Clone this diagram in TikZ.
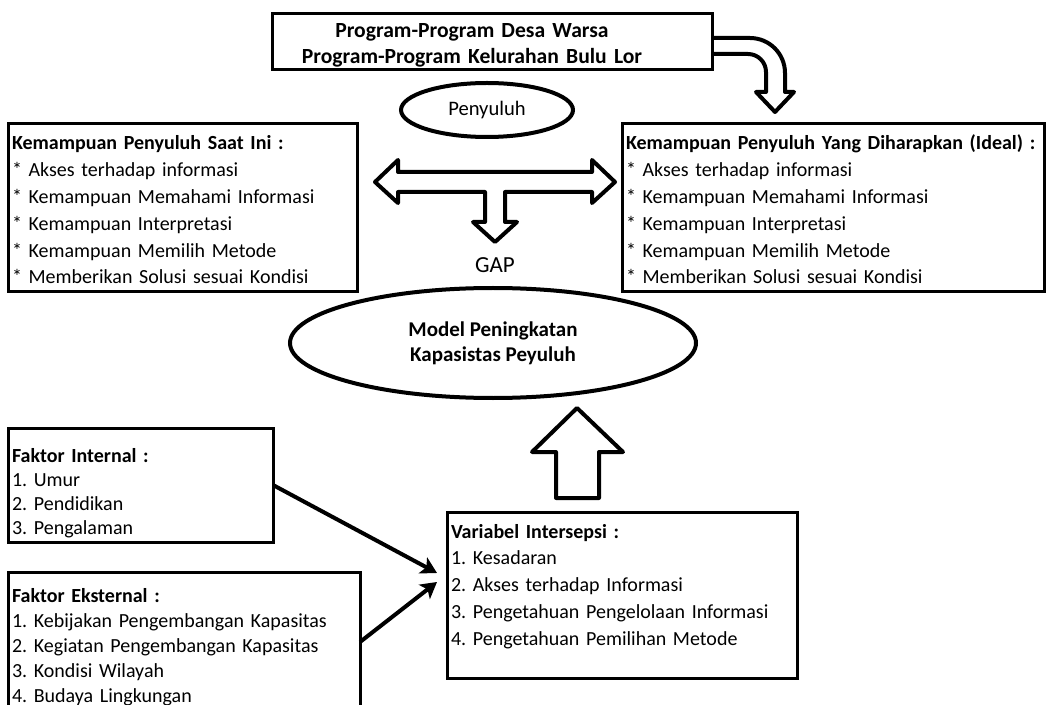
\documentclass[tikz,border=0pt]{standalone}
\usepackage{fontspec}
\setmainfont{Carlito}
\usetikzlibrary{shapes.geometric,arrows.meta}
\frenchspacing

\tikzset{
    box/.style        = {draw, line width=1.5pt, outer sep=0pt, inner xsep=2pt, inner ysep=0pt,
                         anchor=north west, align=left, font=\fontsize{10}{13.4}\selectfont},
    oval/.style       = {draw, ellipse, line width=2pt, inner sep=0pt},
    blockarrow/.style = {draw, line width=2pt, line join=round},
    arrow/.style      = {line width=2pt,-{Stealth[length=8pt,width=9pt,inset=2pt]}},
}

\begin{document}
\begin{tikzpicture}[x=0.5pt,y=-0.5pt]
                \useasboundingbox (0,0) rectangle (1048,705);

                % programs on top
                \node[box, align=center, text width=216pt, text height=12pt, text depth=16pt,
                      font=\bfseries\fontsize{10.8}{13}\selectfont] (prog) at (272,14)
                      {\hspace*{-20pt}Program-Program Desa Warsa\\
                       \hspace*{-20pt}Program-Program Kelurahan Bulu Lor};
                \node[oval, minimum width=86pt, minimum height=27pt,
                      font=\fontsize{10.3}{12}\selectfont] (peny) at (487,110) {Penyuluh};

                % now and ideal
                \node[box, text width=170.5pt, text height=13pt, text depth=71pt] (now) at (8,124)
                      {\textbf{Kemampuan Penyuluh Saat Ini :}\\
                       {*} Akses terhadap informasi\\
                       {*} Kemampuan Memahami Informasi\\
                       {*} Kemampuan Interpretasi\\
                       {*} Kemampuan Memilih Metode\\
                       {*} Memberikan Solusi sesuai Kondisi};
                \node[box, text width=207pt, text height=13pt, text depth=71pt] (ideal) at (622,124)
                      {\textbf{Kemampuan Penyuluh Yang Diharapkan (Ideal) :}\\
                       {*} Akses terhadap informasi\\
                       {*} Kemampuan Memahami Informasi\\
                       {*} Kemampuan Interpretasi\\
                       {*} Kemampuan Memilih Metode\\
                       {*} Memberikan Solusi sesuai Kondisi};

                \node[font=\fontsize{11.5}{14}\selectfont] (gap) at (495,265) {GAP};
                \node[oval, minimum width=203pt, minimum height=55pt, align=center,
                      font=\bfseries\fontsize{10.5}{12.5}\selectfont] (model) at (493,343)
                      {Model Peningkatan\\Kapasistas Peyuluh};

                % factors
                \node[box, text width=128.5pt, text height=17pt, text depth=40pt,
                      font=\fontsize{10}{12}\selectfont] (intern) at (8,428)
                      {\textbf{Faktor Internal :}\\
                       1. Umur\\
                       2. Pendidikan\\
                       3. Pengalaman};
                \node[box, text width=172pt, text height=15pt, text depth=55pt,
                      font=\fontsize{10}{12.5}\selectfont] (ekstern) at (8,572)
                      {\textbf{Faktor Eksternal :}\\
                       1. Kebijakan Pengembangan Kapasitas\\
                       2. Kegiatan Pengembangan Kapasitas\\
                       3. Kondisi Wilayah\\
                       4. Budaya Lingkungan};
                \node[box, text width=171pt, text height=13pt, text depth=70pt] (inter) at (447,512)
                      {\textbf{Variabel Intersepsi :}\\
                       1. Kesadaran\\
                       2. Akses terhadap Informasi\\
                       3. Pengetahuan Pengelolaan Informasi\\
                       4. Pengetahuan Pemilihan Metode};

                % block arrows
                \draw[blockarrow] (712,38) -- (750,38) arc[start angle=-90, end angle=0, radius=35]
                      -- (785,92) -- (794,92) -- (775,112) -- (756,92) -- (766,92) -- (766,72)
                      arc[start angle=0, end angle=-90, radius=18] -- (712,54);
                \draw[blockarrow] (375,182) -- (398,160) -- (398,172) -- (592,172) -- (592,160)
                      -- (615,182) -- (592,203) -- (592,192) -- (505,192) -- (505,222) -- (517,222)
                      -- (495,242) -- (473,222) -- (485,222) -- (485,192) -- (398,192) -- (398,203) -- cycle;
                \draw[blockarrow] (577,408) -- (623,452) -- (599,452) -- (599,498) -- (556,498)
                      -- (556,452) -- (532,452) -- cycle;

                \coordinate (tipA) at (437,573);
                \coordinate (tipB) at (437,582);
                \draw[arrow] (intern.east) -- (tipA);
                \draw[arrow] (ekstern.east) -- (tipB);
\end{tikzpicture}
\end{document}
